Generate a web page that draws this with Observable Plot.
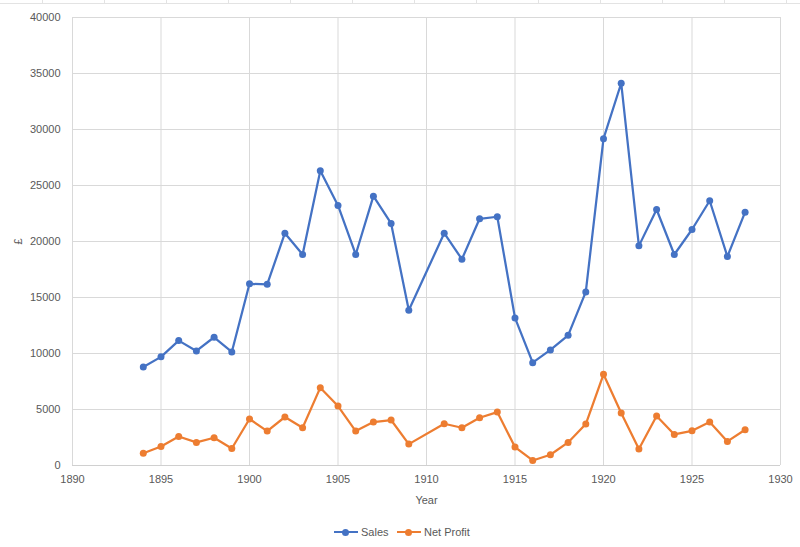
<!DOCTYPE html>
<html>
<head>
<meta charset="utf-8">
<script src="https://cdn.jsdelivr.net/npm/d3@7"></script>
<script src="https://cdn.jsdelivr.net/npm/@observablehq/plot@0.6"></script>
<style>
  html, body { margin: 0; padding: 0; background: #fff; }
  body { width: 800px; height: 547px; overflow: hidden; font-family: "Liberation Sans", Arial, sans-serif; }
  #sheet { position: absolute; left: 0; top: 0; width: 800px; height: 3px; border-bottom: 1px solid #e3e3e3;
    background: repeating-linear-gradient(to right, transparent 0, transparent 42px, #e3e3e3 42px, #e3e3e3 43px, transparent 43px, transparent 62px); }
  #chart { position: absolute; left: 0; top: 0; }
  #legend { position: absolute; left: 0; top: 522px; width: 800px; height: 20px; font-size: 11px; color: #595959; }
  .item { position: absolute; top: 0; height: 20px; display: flex; align-items: center; }
  .sw { position: relative; width: 24px; height: 20px; margin-right: 3px; }
  .sw .ln { position: absolute; left: 0; right: 0; top: 9px; height: 2px; }
  .sw .dot { position: absolute; left: 8px; top: 6.5px; width: 7px; height: 7px; border-radius: 50%; }
</style>
</head>
<body>
<div id="sheet"></div>
<div id="chart"></div>
<div id="legend"></div>
<script>
const years     = [1894,1895,1896,1897,1898,1899,1900,1901,1902,1903,1904,1905,1906,1907,1908,1909,1911,1912,1913,1914,1915,1916,1917,1918,1919,1920,1921,1922,1923,1924,1925,1926,1927,1928];
const sales     = [8800,9700,11150,10230,11450,10140,16220,16180,20740,18840,26320,23220,18840,24050,21610,13860,20740,18420,22030,22210,13180,9180,10320,11620,15500,29180,34130,19610,22860,18840,21070,23640,18660,22620];
const netProfit = [1100,1700,2590,2060,2480,1520,4150,3075,4330,3370,6950,5310,3075,3880,4060,1910,3730,3370,4260,4770,1645,450,957,2060,3700,8140,4685,1470,4420,2770,3100,3880,2150,3190];
const seriesNames = ["Sales", "Net Profit"];
const seriesColors = ["#4472C4", "#ED7D31"];
const xTicks = [1890,1895,1900,1905,1910,1915,1920,1925,1930];
const yTicks = [0,5000,10000,15000,20000,25000,30000,35000,40000];

const rows = [];
years.forEach((y, i) => {
  rows.push({year: y, value: sales[i], series: seriesNames[0]});
});
years.forEach((y, i) => {
  rows.push({year: y, value: netProfit[i], series: seriesNames[1]});
});

const chart = Plot.plot({
  width: 800,
  height: 515,
  marginLeft: 72,
  marginRight: 20,
  marginTop: 17,
  marginBottom: 50,
  style: {fontFamily: "'Liberation Sans', Arial, sans-serif", fontSize: "11px", color: "#595959", background: "transparent"},
  x: {domain: [1890, 1930]},
  y: {domain: [0, 40000]},
  color: {domain: seriesNames, range: seriesColors},
  marks: [
    Plot.gridX(xTicks, {stroke: "#d9d9d9", strokeOpacity: 1}),
    Plot.gridY(yTicks, {stroke: "#d9d9d9", strokeOpacity: 1}),
    Plot.ruleY([0], {stroke: "#d0d0d0"}),
    Plot.axisX({ticks: xTicks, tickFormat: d => String(d), tickSize: 0, tickPadding: 10, label: "Year", labelAnchor: "center", labelArrow: "none", labelOffset: 38, fill: "#595959"}),
    Plot.axisY({ticks: yTicks, tickFormat: d => String(d), tickSize: 0, tickPadding: 12, label: "£", labelAnchor: "center", labelArrow: "none", labelOffset: 58, fill: "#595959"}),
    Plot.line(rows, {x: "year", y: "value", z: "series", stroke: "series", strokeWidth: 2.25, strokeLinejoin: "round"}),
    Plot.dot(rows, {x: "year", y: "value", fill: "series", r: 3.5})
  ]
});
document.getElementById("chart").appendChild(chart);

const legend = document.getElementById("legend");
const lefts = [334, 397];
seriesNames.forEach((name, i) => {
  const it = document.createElement("div");
  it.className = "item";
  it.style.left = lefts[i] + "px";
  it.innerHTML = `<div class="sw"><div class="ln" style="background:${seriesColors[i]}"></div><div class="dot" style="background:${seriesColors[i]}"></div></div><span>${name}</span>`;
  legend.appendChild(it);
});
</script>
</body>
</html>
